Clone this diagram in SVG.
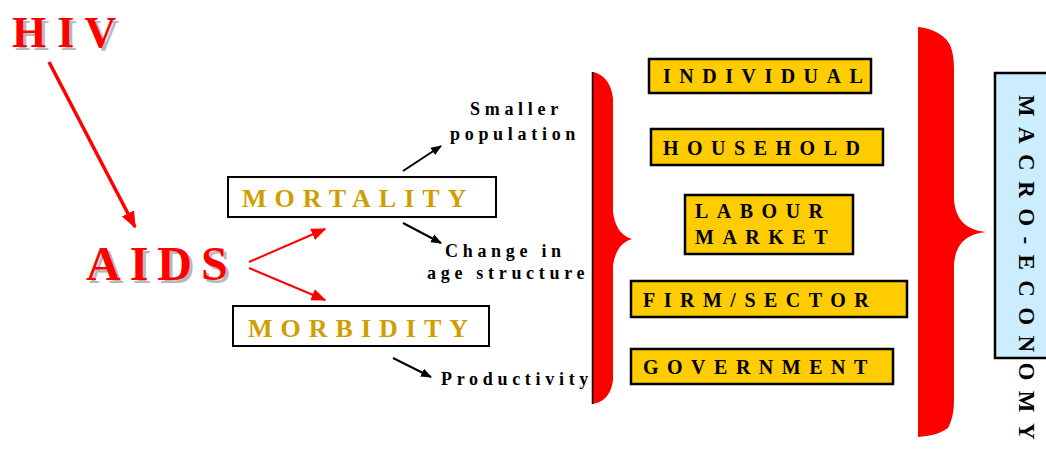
<svg xmlns="http://www.w3.org/2000/svg" width="1046" height="449" viewBox="0 0 1046 449">
<defs>
<style>
.big{font-family:"Liberation Serif","Times New Roman",serif;font-weight:bold;fill:#ff0000}
.shadow{font-family:"Liberation Serif","Times New Roman",serif;font-weight:bold;fill:#b8b8b8}
.gold{font-family:"Liberation Serif","Times New Roman",serif;font-weight:bold;font-size:26px;fill:#D09E00;letter-spacing:8px}
.lbl{font-family:"Liberation Serif","Times New Roman",serif;font-weight:bold;font-size:18px;fill:#000;letter-spacing:4.7px}
.ylw{font-family:"Liberation Serif","Times New Roman",serif;font-weight:bold;font-size:20px;fill:#000;letter-spacing:8.5px}
.wbox{fill:#fff;stroke:#000;stroke-width:2}
.ybox{fill:#FFCC00;stroke:#000;stroke-width:2.5}
.red{stroke:#ff0000;fill:none}
.blk{stroke:#000;stroke-width:2;fill:none}
</style>
<marker id="ra" viewBox="0 0 10 10" refX="9" refY="5" markerWidth="15" markerHeight="15" markerUnits="userSpaceOnUse" orient="auto">
<path d="M0,1 L10,5 L0,9 z" fill="#ff0000"/>
</marker>
<marker id="ra2" viewBox="0 0 10 10" refX="9" refY="5" markerWidth="17" markerHeight="17" markerUnits="userSpaceOnUse" orient="auto">
<path d="M0,1 L10,5 L0,9 z" fill="#ff0000"/>
</marker>
<marker id="ka" viewBox="0 0 10 10" refX="9" refY="5" markerWidth="11" markerHeight="11" markerUnits="userSpaceOnUse" orient="auto">
<path d="M0,1 L10,5 L0,9 z" fill="#000"/>
</marker>
</defs>

<g id="hiv">
<text class="shadow" x="15" y="50" font-size="44" letter-spacing="0">H I V</text>
<text class="big" x="12" y="47" font-size="44" letter-spacing="0">H I V</text>
</g>

<g id="aids">
<text class="shadow" x="89" y="283" font-size="48" letter-spacing="9">AIDS</text>
<text class="big" x="86" y="280" font-size="48" letter-spacing="9">AIDS</text>
</g>

<g id="mortality">
<rect class="wbox" x="228" y="177" width="268" height="40"/>
<text class="gold" x="242" y="207" letter-spacing="9">MORTALITY</text>
</g>

<g id="morbidity">
<rect class="wbox" x="233" y="306" width="256" height="40"/>
<text class="gold" x="248" y="337">MORBIDITY</text>
</g>

<g id="smaller-population">
<text class="lbl" x="470" y="115">Smaller</text>
<text class="lbl" x="450" y="140">population</text>
</g>

<g id="change-age">
<text class="lbl" x="445" y="257">Change in</text>
<text class="lbl" x="427" y="279">age structure</text>
</g>

<g id="productivity">
<text class="lbl" x="441" y="385" letter-spacing="4.4">Productivity</text>
</g>

<g id="brace1">
<path d="M593,72 C603,74 611,82 613,98 L613,212 C615,228 622,236 632,239 C622,242 615,250 613,266 L613,380 C611,396 603,402 593,404 Z" fill="#ff0000"/>
<line x1="592.5" y1="72" x2="592.5" y2="404" stroke="#000" stroke-width="1.5"/>
</g>

<g id="individual">
<rect class="ybox" x="649" y="59" width="222" height="34"/>
<text class="ylw" x="663" y="83" letter-spacing="7.5">INDIVIDUAL</text>
</g>
<g id="household">
<rect class="ybox" x="651" y="129" width="232" height="36"/>
<text class="ylw" x="663" y="155">HOUSEHOLD</text>
</g>
<g id="labour-market">
<rect class="ybox" x="685" y="195" width="168" height="59"/>
<text class="ylw" x="695" y="218">LABOUR</text>
<text class="ylw" x="695" y="244">MARKET</text>
</g>
<g id="firm-sector">
<rect class="ybox" x="631" y="281" width="276" height="36"/>
<text class="ylw" x="643" y="307" letter-spacing="7.5">FIRM/SECTOR</text>
</g>
<g id="government">
<rect class="ybox" x="631" y="349" width="262" height="35"/>
<text class="ylw" x="643" y="374">GOVERNMENT</text>
</g>

<g id="brace2">
<path d="M918,27 C932,28 946,36 950,45 C953,52 954,60 954,70 L954,200 C956,222 968,230 986,232 C968,234 956,242 954,264 L954,400 C954,412 952,420 948,428 C940,434 930,436 918,437 Z" fill="#ff0000"/>
</g>

<g id="macro-economy">
<rect x="995" y="73" width="60" height="285" fill="#CCECFF" stroke="#000" stroke-width="2.5"/>
<text transform="translate(1019,95) rotate(90)" x="0" y="0" font-family="Liberation Serif, Times New Roman, serif" font-weight="bold" font-size="23" letter-spacing="10.4" fill="#000">MACRO-ECONOMY</text>
</g>

<g id="connectors">
<line class="red" x1="49" y1="62" x2="135" y2="227" stroke-width="3.5" marker-end="url(#ra2)"/>
<line class="red" x1="249" y1="262" x2="325" y2="229" stroke-width="2" marker-end="url(#ra)"/>
<line class="red" x1="249" y1="268" x2="325" y2="300" stroke-width="2" marker-end="url(#ra)"/>
<line class="blk" x1="403" y1="171" x2="441" y2="146" marker-end="url(#ka)"/>
<line class="blk" x1="403" y1="223" x2="441" y2="243" marker-end="url(#ka)"/>
<line class="blk" x1="393" y1="358" x2="431" y2="377" marker-end="url(#ka)"/>
</g>
</svg>
